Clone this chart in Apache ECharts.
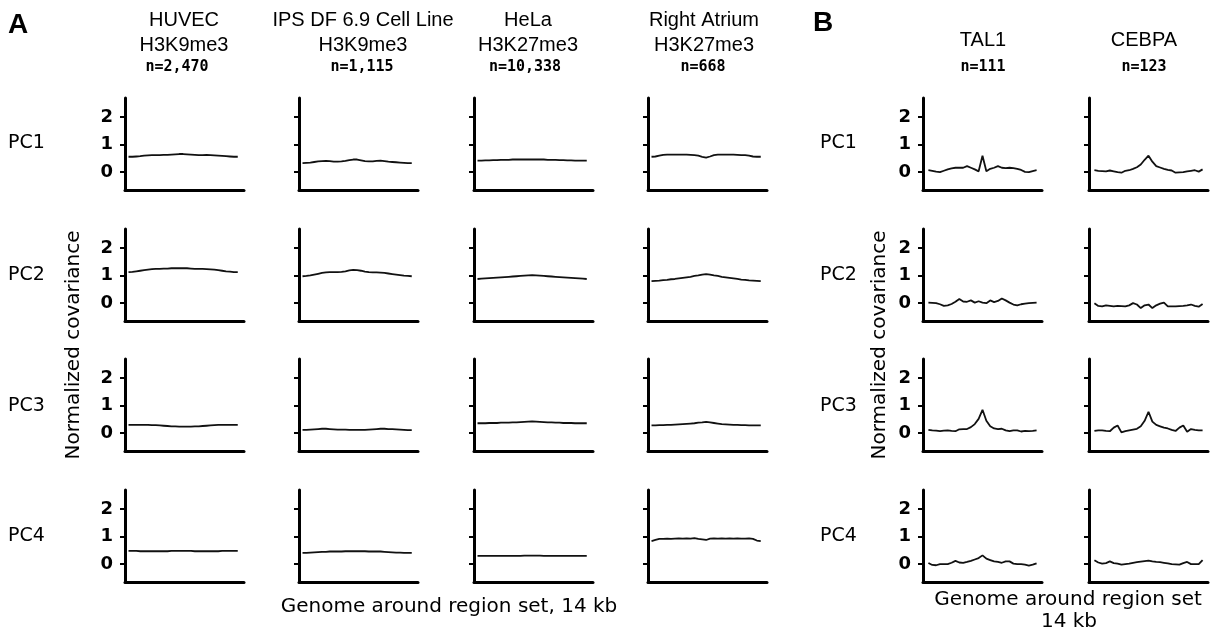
<!DOCTYPE html>
<html>
<head>
<meta charset="utf-8">
<script src="https://cdn.jsdelivr.net/npm/echarts@6/dist/echarts.min.js"></script>
<style>
  html, body { margin: 0; padding: 0; background: #ffffff; }
  #chart { width: 1214px; height: 634px; }
</style>
</head>
<body>
<div id="chart"></div>
<script>
// ---------------- DATA ----------------
// genomic position (kb) relative to region centre
const positions = [-7,-6.5,-6,-5.5,-5,-4.5,-4,-3.5,-3,-2.5,-2,-1.5,-1,-0.5,0,0.5,1,1.5,2,2.5,3,3.5,4,4.5,5,5.5,6,6.5,7];

const rowLabels = ['PC1', 'PC2', 'PC3', 'PC4'];
const yTickValues = [0, 1, 2];

const panelATitles = ['HUVEC', 'IPS DF 6.9 Cell Line', 'HeLa', 'Right Atrium'];
const panelAMarks  = ['H3K9me3', 'H3K9me3', 'H3K27me3', 'H3K27me3'];
const panelACounts = ['n=2,470', 'n=1,115', 'n=10,338', 'n=668'];
const panelBTitles = ['TAL1', 'CEBPA'];
const panelBCounts = ['n=111', 'n=123'];

const yAxisTitle = 'Normalized covariance';
const xTitleA = 'Genome around region set, 14 kb';
const xTitleB1 = 'Genome around region set';
const xTitleB2 = '14 kb';

// Panel A
const HUVEC_PC1 = [0.56,0.56,0.57,0.58,0.60,0.61,0.62,0.62,0.62,0.63,0.63,0.64,0.65,0.66,0.66,0.65,0.64,0.63,0.62,0.62,0.63,0.62,0.61,0.60,0.59,0.58,0.57,0.56,0.56];
const HUVEC_PC2 = [1.13,1.14,1.16,1.18,1.20,1.22,1.24,1.25,1.25,1.26,1.26,1.27,1.27,1.27,1.27,1.27,1.26,1.25,1.25,1.25,1.24,1.23,1.22,1.20,1.18,1.16,1.15,1.13,1.13];
const HUVEC_PC3 = [0.30,0.30,0.30,0.30,0.30,0.30,0.29,0.29,0.28,0.27,0.26,0.25,0.25,0.24,0.24,0.24,0.24,0.25,0.25,0.26,0.27,0.28,0.29,0.30,0.30,0.30,0.30,0.30,0.30];
const HUVEC_PC4 = [0.48,0.48,0.48,0.47,0.47,0.47,0.47,0.47,0.47,0.47,0.47,0.48,0.48,0.48,0.48,0.48,0.48,0.47,0.47,0.47,0.47,0.47,0.47,0.47,0.48,0.48,0.48,0.48,0.48];

const IPS_PC1 = [0.33,0.34,0.35,0.37,0.39,0.40,0.41,0.40,0.38,0.38,0.39,0.41,0.44,0.46,0.46,0.43,0.40,0.39,0.39,0.41,0.42,0.40,0.38,0.37,0.36,0.35,0.34,0.33,0.33];
const IPS_PC2 = [0.98,0.99,1.01,1.04,1.07,1.10,1.12,1.13,1.13,1.13,1.14,1.16,1.19,1.21,1.20,1.18,1.15,1.13,1.12,1.12,1.11,1.10,1.08,1.06,1.04,1.02,1.00,0.99,0.98];
const IPS_PC3 = [0.12,0.12,0.13,0.14,0.15,0.16,0.16,0.15,0.14,0.13,0.13,0.13,0.12,0.12,0.12,0.12,0.12,0.13,0.14,0.15,0.16,0.16,0.15,0.15,0.14,0.13,0.12,0.11,0.11];
const IPS_PC4 = [0.41,0.41,0.42,0.43,0.44,0.45,0.45,0.46,0.46,0.46,0.46,0.47,0.47,0.47,0.47,0.47,0.47,0.46,0.46,0.46,0.46,0.45,0.44,0.43,0.42,0.42,0.41,0.41,0.41];

const HELA_PC1 = [0.42,0.42,0.43,0.43,0.44,0.44,0.45,0.45,0.45,0.46,0.46,0.46,0.46,0.46,0.46,0.46,0.46,0.46,0.45,0.45,0.45,0.44,0.44,0.43,0.43,0.42,0.42,0.42,0.42];
const HELA_PC2 = [0.88,0.89,0.90,0.91,0.92,0.93,0.94,0.95,0.96,0.97,0.98,0.99,1.00,1.01,1.02,1.01,1.00,0.99,0.98,0.97,0.96,0.95,0.94,0.93,0.92,0.91,0.90,0.89,0.88];
const HELA_PC3 = [0.36,0.36,0.36,0.37,0.37,0.37,0.38,0.38,0.38,0.39,0.39,0.40,0.41,0.42,0.43,0.42,0.41,0.40,0.39,0.39,0.38,0.38,0.37,0.37,0.37,0.36,0.36,0.36,0.36];
const HELA_PC4 = [0.30,0.30,0.30,0.30,0.30,0.30,0.30,0.30,0.30,0.30,0.30,0.30,0.31,0.31,0.31,0.31,0.31,0.30,0.30,0.30,0.30,0.30,0.30,0.30,0.30,0.30,0.30,0.30,0.30];

const RA_PC1 = [0.56,0.57,0.60,0.63,0.64,0.64,0.64,0.64,0.64,0.64,0.63,0.62,0.60,0.56,0.53,0.57,0.62,0.64,0.64,0.64,0.64,0.64,0.63,0.62,0.62,0.60,0.57,0.56,0.56];
const RA_PC2 = [0.80,0.81,0.82,0.84,0.85,0.87,0.88,0.90,0.92,0.94,0.96,0.99,1.01,1.04,1.06,1.04,1.01,0.99,0.96,0.94,0.92,0.90,0.88,0.86,0.85,0.83,0.82,0.81,0.80];
const RA_PC3 = [0.28,0.28,0.29,0.29,0.30,0.30,0.31,0.32,0.33,0.34,0.35,0.36,0.38,0.39,0.41,0.39,0.37,0.35,0.33,0.32,0.31,0.30,0.30,0.29,0.29,0.28,0.28,0.28,0.28];
const RA_PC4 = [0.84,0.88,0.92,0.92,0.93,0.92,0.93,0.94,0.93,0.94,0.93,0.95,0.92,0.90,0.88,0.93,0.94,0.93,0.94,0.93,0.94,0.93,0.94,0.93,0.93,0.94,0.92,0.86,0.84];

// Panel B
const TAL1_PC1 = [0.07,0.05,0.02,0.00,0.05,0.10,0.14,0.16,0.16,0.16,0.22,0.16,0.10,0.03,0.60,0.03,0.12,0.16,0.22,0.16,0.15,0.16,0.15,0.12,0.08,0.01,0.00,0.04,0.07];
const TAL1_PC2 = [0.02,0.01,0.00,-0.04,-0.10,-0.08,-0.03,0.05,0.15,0.06,0.05,0.10,0.02,0.07,0.02,0.00,0.10,0.04,0.08,0.17,0.10,0.02,-0.05,-0.08,-0.04,-0.02,0.00,0.01,0.02];
const TAL1_PC3 = [0.12,0.10,0.09,0.07,0.09,0.10,0.08,0.07,0.14,0.15,0.15,0.22,0.33,0.52,0.85,0.45,0.25,0.17,0.15,0.16,0.10,0.07,0.10,0.10,0.06,0.08,0.07,0.08,0.10];
const TAL1_PC4 = [0.04,-0.03,-0.04,0.00,0.00,0.00,0.05,0.12,0.06,0.05,0.08,0.12,0.17,0.22,0.32,0.20,0.15,0.10,0.08,0.05,0.10,0.10,0.02,0.00,0.00,-0.02,-0.05,-0.02,0.03];

const CEBPA_PC1 = [0.07,0.05,0.04,0.03,0.06,0.03,0.00,-0.02,0.05,0.07,0.12,0.18,0.28,0.45,0.60,0.38,0.22,0.17,0.12,0.08,0.06,-0.02,-0.01,0.00,0.03,0.05,0.07,0.02,0.10];
const CEBPA_PC2 = [0.00,-0.10,-0.12,-0.08,-0.10,-0.12,-0.10,-0.11,-0.12,-0.08,0.00,-0.05,-0.18,-0.08,-0.05,-0.18,-0.08,-0.02,0.02,-0.12,-0.12,-0.12,-0.11,-0.10,-0.08,-0.05,-0.10,-0.13,-0.03];
const CEBPA_PC3 = [0.08,0.10,0.10,0.08,0.07,0.20,0.28,0.03,0.07,0.10,0.13,0.16,0.25,0.45,0.78,0.42,0.30,0.25,0.20,0.17,0.12,0.08,0.20,0.28,0.05,0.15,0.12,0.10,0.10];
const CEBPA_PC4 = [0.14,0.06,0.02,0.04,0.10,0.04,0.02,-0.02,0.00,0.02,0.05,0.07,0.09,0.11,0.13,0.10,0.08,0.07,0.05,0.03,0.00,-0.01,-0.02,0.04,0.08,0.00,0.00,0.00,0.15];

// columns -> rows
const panelAValues = [
  [HUVEC_PC1, HUVEC_PC2, HUVEC_PC3, HUVEC_PC4],
  [IPS_PC1, IPS_PC2, IPS_PC3, IPS_PC4],
  [HELA_PC1, HELA_PC2, HELA_PC3, HELA_PC4],
  [RA_PC1, RA_PC2, RA_PC3, RA_PC4]
];
const panelBValues = [
  [TAL1_PC1, TAL1_PC2, TAL1_PC3, TAL1_PC4],
  [CEBPA_PC1, CEBPA_PC2, CEBPA_PC3, CEBPA_PC4]
];

// ---------------- LAYOUT ----------------
const colLeftA = [125, 299, 474, 648];
const colLeftB = [923, 1089];
const rowTop = [98, 229, 359, 490];
const plotW = 119, plotH = 92;
const Y_MIN = -0.65, Y_MAX = 2.7;

const grids = [], xAxes = [], yAxes = [], series = [];

function addPlot(left, top, values, showLabels, xmin, xmax) {
  const idx = grids.length;
  grids.push({ left: left, top: top, width: plotW, height: plotH, containLabel: false });
  xAxes.push({
    type: 'value', gridIndex: idx, min: xmin, max: xmax, position: 'bottom',
    axisLine: { show: true, onZero: false, lineStyle: { color: '#000', width: 3 } },
    axisTick: { show: false }, axisLabel: { show: false }, splitLine: { show: false }
  });
  yAxes.push({
    type: 'value', gridIndex: idx, min: Y_MIN, max: Y_MAX, position: 'left',
    axisLine: { show: true, onZero: false, lineStyle: { color: '#000', width: 3 } },
    axisTick: { show: true, inside: false, length: 5, customValues: yTickValues, lineStyle: { color: '#000', width: 2 } },
    axisLabel: {
      show: showLabels, customValues: yTickValues, margin: 12,
      color: '#000', fontFamily: 'DejaVu Sans', fontWeight: 'bold', fontSize: 18
    },
    splitLine: { show: false }
  });
  series.push({
    type: 'line', xAxisIndex: idx, yAxisIndex: idx,
    data: positions.map((p, i) => [p, values[i]]),
    showSymbol: false, symbol: 'none', silent: true, animation: false,
    lineStyle: { color: '#111', width: 1.8 }
  });
}

panelAValues.forEach((col, c) => {
  col.forEach((vals, r) => addPlot(colLeftA[c], rowTop[r], vals, c === 0, -7.45, 7.8));
});
panelBValues.forEach((col, c) => {
  col.forEach((vals, r) => addPlot(colLeftB[c], rowTop[r], vals, c === 0, -7.7, 7.7));
});

// ---------------- TEXT ----------------
const graphics = [];
function txt(text, x, y, font, opts) {
  graphics.push(Object.assign({
    type: 'text', x: x, y: y, silent: true,
    style: { text: text, font: font, fill: '#000', align: 'center', verticalAlign: 'middle' }
  }, opts || {}));
}
const titleFont = '20px "Liberation Sans", Arial, sans-serif';
const countFont = 'bold 15px "DejaVu Sans Mono", monospace';
const labelFont = '20px "DejaVu Sans", sans-serif';
const rowFont = '19px "DejaVu Sans", sans-serif';

txt('A', 18, 25, 'bold 28px "Liberation Sans", Arial, sans-serif');
txt('B', 823, 23, 'bold 28px "Liberation Sans", Arial, sans-serif');

const titleCentersA = [184, 363, 528, 704];
const countCentersA = [177, 362, 525, 703];
panelATitles.forEach((t, i) => {
  txt(t, titleCentersA[i], 20, titleFont);
  txt(panelAMarks[i], titleCentersA[i], 45, titleFont);
  txt(panelACounts[i], countCentersA[i], 67, countFont);
});
const titleCentersB = [983, 1144];
panelBTitles.forEach((t, i) => {
  txt(t, titleCentersB[i], 40, titleFont);
  txt(panelBCounts[i], titleCentersB[i], 67, countFont);
});

const rowLabelY = [143, 275, 406, 536];
rowLabels.forEach((t, r) => {
  graphics.push({ type: 'text', x: 8, y: rowLabelY[r], silent: true,
    style: { text: t, font: rowFont, fill: '#000', align: 'left', verticalAlign: 'middle' } });
  graphics.push({ type: 'text', x: 820, y: rowLabelY[r], silent: true,
    style: { text: t, font: rowFont, fill: '#000', align: 'left', verticalAlign: 'middle' } });
});

txt(yAxisTitle, 74, 345, labelFont, { rotation: Math.PI / 2 });
txt(yAxisTitle, 880, 345, labelFont, { rotation: Math.PI / 2 });
txt(xTitleA, 449, 607, labelFont);
txt(xTitleB1, 1068, 600, labelFont);
txt(xTitleB2, 1069, 622, labelFont);

const chart = echarts.init(document.getElementById('chart'), null, { renderer: 'canvas' });
chart.setOption({
  backgroundColor: '#ffffff',
  animation: false,
  grid: grids,
  xAxis: xAxes,
  yAxis: yAxes,
  series: series,
  graphic: graphics
});
</script>
</body>
</html>
